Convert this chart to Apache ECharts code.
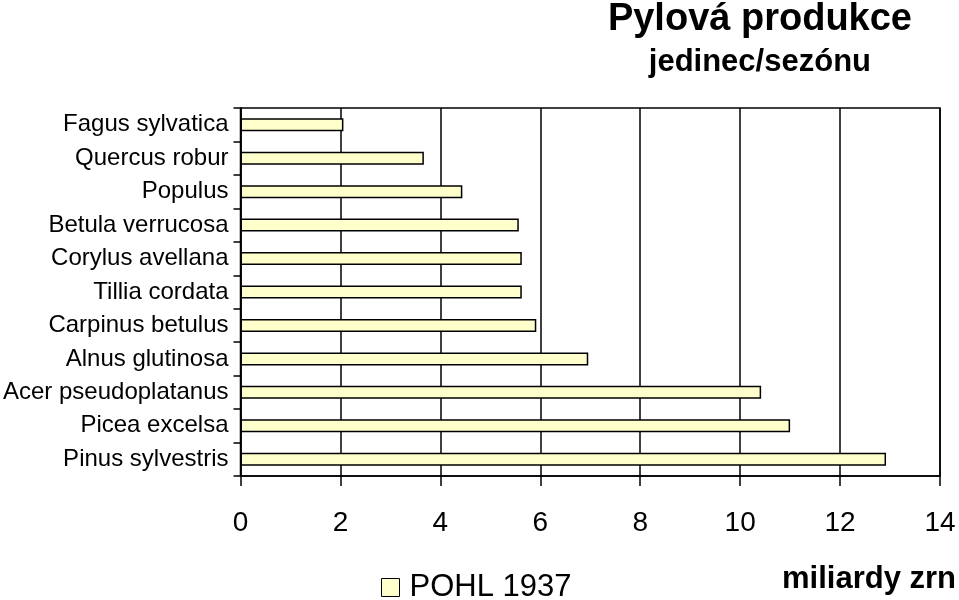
<!DOCTYPE html>
<html>
<head>
<meta charset="utf-8">
<script src="https://cdn.jsdelivr.net/npm/echarts@6/dist/echarts.min.js"></script>
<style>
  html, body { margin: 0; padding: 0; background: #fff; }
  #chart { width: 959px; height: 600px; }
</style>
</head>
<body>
<div id="chart"></div>
<script>
// data
const species = [
  'Fagus sylvatica', 'Quercus robur', 'Populus', 'Betula verrucosa',
  'Corylus avellana', 'Tillia cordata', 'Carpinus betulus', 'Alnus glutinosa',
  'Acer pseudoplatanus', 'Picea excelsa', 'Pinus sylvestris'
]
const pohl1937 = [2.06, 3.67, 4.44, 5.57, 5.63, 5.63, 5.92, 6.96, 10.42, 11.0, 12.92]
const seriesName = 'POHL 1937'

const font = 'Liberation Sans, Arial, sans-serif'
const chart = echarts.init(document.getElementById('chart'))

chart.setOption({
  animation: false,
  backgroundColor: '#fff',
  textStyle: { fontFamily: font, color: '#000' },
  title: [
    {
      text: 'Pylová produkce',
      right: 47, top: 1, padding: 0,
      textStyle: { fontSize: 38, fontWeight: 'bold', color: '#000', fontFamily: font }
    },
    {
      text: 'jedinec/sezónu',
      right: 88, top: 47, padding: 0,
      textStyle: { fontSize: 31, fontWeight: 'bold', color: '#000', fontFamily: font }
    },
    {
      text: 'miliardy zrn',
      right: 3, top: 564, padding: 0,
      textStyle: { fontSize: 31, fontWeight: 'bold', color: '#000', fontFamily: font }
    }
  ],
  legend: {
    left: 381, top: 572, padding: 0,
    itemWidth: 18, itemHeight: 18,
    itemGap: 9,
    icon: 'rect',
    textStyle: { fontSize: 31, color: '#000', fontFamily: font, padding: [0, 0, 0, 5] },
    itemStyle: { borderColor: '#000', borderWidth: 1 },
    data: [seriesName]
  },
  grid: {
    left: 240, right: 19, top: 108, bottom: 124,
    show: true, borderColor: '#000', borderWidth: 1.5,
    containLabel: false
  },
  xAxis: {
    type: 'value',
    min: 0, max: 14, interval: 2,
    axisLine: { show: true, lineStyle: { color: '#000', width: 1.5 } },
    axisTick: { show: true, inside: false, length: 10, lineStyle: { color: '#000', width: 1.5 } },
    splitLine: { show: true, lineStyle: { color: '#000', width: 1.5 } },
    axisLabel: { fontSize: 28, color: '#000', margin: 33, fontFamily: font }
  },
  yAxis: {
    type: 'category',
    inverse: true,
    data: species,
    axisLine: { show: true, lineStyle: { color: '#000', width: 1.5 } },
    axisTick: { show: true, inside: false, length: 7, alignWithLabel: false, lineStyle: { color: '#000', width: 1.5 } },
    axisLabel: { fontSize: 24, color: '#000', margin: 12, fontFamily: font }
  },
  series: [
    {
      name: seriesName,
      type: 'bar',
      data: pohl1937,
      barWidth: 13,
      itemStyle: { color: '#FFFFCC', borderColor: '#000', borderWidth: 1.5 }
    }
  ]
})
</script>
</body>
</html>
